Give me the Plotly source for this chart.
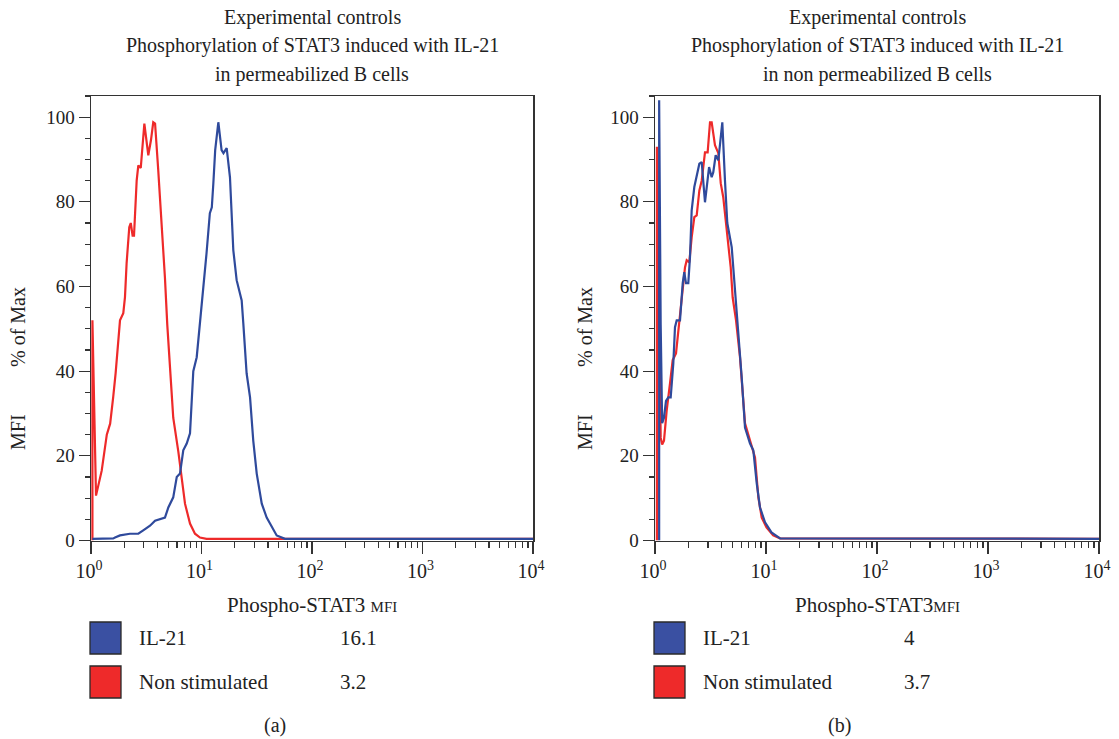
import plotly.graph_objects as go

W, H = 1119, 739

# ---------------- data ----------------
# Panel (a): permeabilized B cells
a_il21_x = [1.03, 1.59, 1.65, 1.83, 2.25, 2.68, 2.97, 3.42, 3.80, 4.36, 4.67, 5.01, 5.55, 5.97, 6.39, 6.84,
            7.35, 7.87, 8.43, 9.05, 9.69, 10.4, 11.1, 11.9, 12.4, 12.8, 13.3, 14.2, 15.2, 15.8, 16.9, 18.1,
            19.4, 20.8, 22.3, 23.1, 23.9, 25.6, 27.5, 29.4, 31.6, 35.1, 38.9, 43.2, 47.9, 57.0, 10000]
a_il21_y = [0.4, 0.5, 0.7, 1.2, 1.6, 1.6, 2.4, 3.5, 4.7, 5.2, 5.4, 7.8, 10.2, 15, 15.8, 21.3,
            22.9, 25.3, 40, 43.3, 51.3, 59.8, 67.8, 77.3, 78.7, 84.4, 92.2, 98.8, 92.2, 91.5, 92.7, 85.8,
            68.6, 61.5, 58.4, 56.7, 51.3, 39.5, 33.8, 23.6, 15.8, 8.7, 5.4, 3.1, 1.2, 0.4, 0.4]
a_ns_x = [1.03, 1.03, 1.11, 1.25, 1.39, 1.49, 1.59, 1.67, 1.83, 1.96, 2.03, 2.10, 2.22, 2.29, 2.38, 2.45,
          2.59, 2.68, 2.82, 2.94, 3.04, 3.30, 3.49, 3.66, 3.80, 4.06, 4.36, 4.67, 4.90, 5.19, 5.55, 6.17,
          6.62, 7.09, 7.87, 8.73, 9.69, 11.1, 10000]
a_ns_y = [0, 52, 10.6, 16.5, 25, 27.6, 34, 39.5, 52, 53.7, 57.5, 65.5, 74, 75, 72, 72,
          85, 88.6, 88, 93, 98.5, 91, 94.6, 98.8, 98.5, 87.5, 75, 62, 51, 41, 29, 21,
          14, 8.7, 4, 1.6, 0.7, 0.4, 0.4]

# Panel (b): non permeabilized B cells
b_il21_x = [1.09, 1.09, 1.125, 1.16, 1.205, 1.256, 1.318, 1.385, 1.462, 1.514, 1.569, 1.680, 1.777, 1.836,
            1.902, 1.995, 2.066, 2.14, 2.26, 2.375, 2.51, 2.635, 2.82, 3.07, 3.24, 3.35, 3.52, 3.72, 4.04,
            4.27, 4.48, 4.91, 5.26, 5.63, 6.04, 6.47, 7.18, 7.69, 8.25, 8.83, 9.80, 11.2, 13.4, 10000]
b_il21_y = [0, 104, 51, 27.7, 29, 33, 33.8, 33.8, 41.8, 50.4, 52, 52, 60.8, 63.4,
            60.8, 60.8, 66.9, 78, 83.5, 85.8, 89, 89.4, 79.9, 88.2, 85.8, 87, 91, 89.8, 98.8,
            85, 75, 69.3, 59.1, 49.6, 38.5, 26.7, 22.9, 21.3, 13.5, 7.8, 4.3, 1.9, 0.5, 0.4]
b_ns_x = [1.04, 1.04, 1.125, 1.16, 1.205, 1.274, 1.365, 1.443, 1.546, 1.622, 1.740, 1.863, 1.930, 2.037,
          2.14, 2.26, 2.375, 2.51, 2.635, 2.82, 2.98, 3.13, 3.24, 3.47, 3.72, 3.91, 4.12, 4.48, 4.81,
          5.01, 5.37, 5.83, 6.47, 7.18, 7.96, 8.53, 9.15, 10.1, 11.6, 13.4, 10000]
b_ns_y = [0, 93, 24.3, 22.7, 23.6, 30.7, 37.1, 42.6, 44.2, 49.6, 57.4, 64.5, 66.2, 65.7,
          71.6, 76.4, 76.8, 82.7, 85, 91.7, 91.7, 98.8, 98.8, 93.4, 91.5, 84.4, 81.1, 72.6, 64.5,
          57.4, 52, 43.3, 27.7, 23.6, 19.6, 10.2, 5.4, 3.1, 1.2, 0.5, 0.4]

series_names = ["IL-21", "Non stimulated"]
mfi_a = ["16.1", "3.2"]
mfi_b = ["4", "3.7"]
titles_a = ["Experimental controls", "Phosphorylation of STAT3 induced with IL-21", "in permeabilized B cells"]
titles_b = ["Experimental controls", "Phosphorylation of STAT3 induced with IL-21", "in non permeabilized B cells"]
xtick_vals = [1, 10, 100, 1000, 10000]
xtick_text = ["10<sup>0</sup>", "10<sup>1</sup>", "10<sup>2</sup>", "10<sup>3</sup>", "10<sup>4</sup>"]
ytick_vals = [0, 20, 40, 60, 80, 100]

# ---------------- style ----------------
BLUE = "#2f4a9c"
RED = "#ee2a2a"
BLUE_FILL = "#3a50a2"
RED_FILL = "#ee2a2a"
FONT = "Liberation Serif"
TXT = "#222222"
AX = "#333333"
FS = 20

def X(px):
    return px / W

def Y(py):
    return 1 - py / H

minor_x = [m * d for d in [1, 10, 100, 1000] for m in range(2, 10)]

fig = go.Figure()
fig.add_trace(go.Scatter(x=a_ns_x, y=a_ns_y, mode="lines", line=dict(color=RED, width=2.2),
                         xaxis="x", yaxis="y", showlegend=False, hoverinfo="skip"))
fig.add_trace(go.Scatter(x=a_il21_x, y=a_il21_y, mode="lines", line=dict(color=BLUE, width=2.2),
                         xaxis="x", yaxis="y", showlegend=False, hoverinfo="skip"))
fig.add_trace(go.Scatter(x=b_ns_x, y=b_ns_y, mode="lines", line=dict(color=RED, width=2.2),
                         xaxis="x2", yaxis="y2", showlegend=False, hoverinfo="skip"))
fig.add_trace(go.Scatter(x=b_il21_x, y=b_il21_y, mode="lines", line=dict(color=BLUE, width=2.2),
                         xaxis="x2", yaxis="y2", showlegend=False, hoverinfo="skip"))

def xaxis(domain, anchor):
    return dict(type="log", range=[0, 4], domain=domain, anchor=anchor, automargin=False,
                tickvals=xtick_vals, ticktext=xtick_text, ticks="outside", ticklen=12, tickwidth=1.3,
                tickcolor=AX, showline=True, linecolor=AX, linewidth=1.5, mirror=True,
                showgrid=False, zeroline=False, ticklabelshift=-2,
                tickfont=dict(family=FONT, size=20, color=TXT),
                minor=dict(tickvals=minor_x, ticks="outside", ticklen=6, tickwidth=1.2, tickcolor=AX,
                           showgrid=False))

def yaxis(domain, anchor):
    return dict(range=[0, 105], domain=domain, anchor=anchor, automargin=False,
                tickvals=ytick_vals, ticks="outside", ticklen=11, tickwidth=1.3, tickcolor=AX,
                showline=True, linecolor=AX, linewidth=1.5, mirror=True,
                showgrid=False, zeroline=False,
                tickfont=dict(family=FONT, size=19, color=TXT),
                minor=dict(dtick=5, ticks="outside", ticklen=5, tickwidth=1.2, tickcolor=AX, showgrid=False))

ydom = [Y(540.5), Y(96)]
fig.update_layout(
    width=W, height=H, margin=dict(l=0, r=0, t=0, b=0, pad=0, autoexpand=False),
    paper_bgcolor="white", plot_bgcolor="white",
    xaxis=xaxis([X(91), X(533)], "y"),
    yaxis=yaxis(ydom, "x"),
    xaxis2=xaxis([X(655), X(1099)], "y2"),
    yaxis2=yaxis(ydom, "x2"),
    font=dict(family=FONT, color=TXT),
    hovermode=False,
)

annotations = []
shapes = []

def add_panel(x0, x1, titles, mfi, label, ylab_x, xtitle):
    cx = (x0 + x1) / 2
    for txt, py in zip(titles, [17.5, 46, 74.5]):
        annotations.append(dict(text=txt, x=X(cx), y=Y(py), xref="paper", yref="paper",
                                xanchor="center", yanchor="middle", showarrow=False,
                                font=dict(family=FONT, size=FS, color=TXT)))
    # y-axis title pieces
    annotations.append(dict(text="% of Max", x=X(ylab_x), y=Y(327), xref="paper", yref="paper",
                            textangle=-90, xanchor="center", yanchor="middle", showarrow=False,
                            font=dict(family=FONT, size=FS, color=TXT)))
    annotations.append(dict(text="MFI", x=X(ylab_x), y=Y(432), xref="paper", yref="paper",
                            textangle=-90, xanchor="center", yanchor="middle", showarrow=False,
                            font=dict(family=FONT, size=FS, color=TXT)))
    # x-axis title
    annotations.append(dict(text=xtitle, x=X(cx), y=Y(605), xref="paper", yref="paper",
                            xanchor="center", yanchor="middle", showarrow=False,
                            font=dict(family=FONT, size=FS + 1, color=TXT)))
    # legend boxes
    for name, val, fill, top in zip(series_names, mfi, [BLUE_FILL, RED_FILL], [622, 666]):
        shapes.append(dict(type="rect", xref="paper", yref="paper",
                           x0=X(x0 - 1), x1=X(x0 + 30), y0=Y(top + 32), y1=Y(top),
                           fillcolor=fill, line=dict(color="#2a2a2a", width=1.3)))
        annotations.append(dict(text=name, x=X(x0 + 46), y=Y(top + 16), xref="paper", yref="paper",
                                xanchor="left", yanchor="middle", showarrow=False,
                                font=dict(family=FONT, size=FS + 1, color=TXT)))
        annotations.append(dict(text=val, x=X(x0 + 247), y=Y(top + 16), xref="paper", yref="paper",
                                xanchor="left", yanchor="middle", showarrow=False,
                                font=dict(family=FONT, size=FS + 1, color=TXT)))
    annotations.append(dict(text=label, x=X(cx - 37), y=Y(725), xref="paper", yref="paper",
                            xanchor="center", yanchor="middle", showarrow=False,
                            font=dict(family=FONT, size=FS, color=TXT)))

add_panel(91, 533, titles_a, mfi_a, "(a)", 18,
          "Phospho-STAT3 <span style='font-size:15px'>MFI</span>")
add_panel(655, 1099, titles_b, mfi_b, "(b)", 585,
          "Phospho-STAT3<span style='font-size:15px'>MFI</span>")

fig.update_layout(annotations=annotations, shapes=shapes)
# place the figure flush with the page corner (no default body margin / scrollbars)
fig.write_html("out.html", config={"displayModeBar": False, "staticPlot": True},
               post_script="document.body.style.margin='0px';document.body.style.overflow='hidden';")
